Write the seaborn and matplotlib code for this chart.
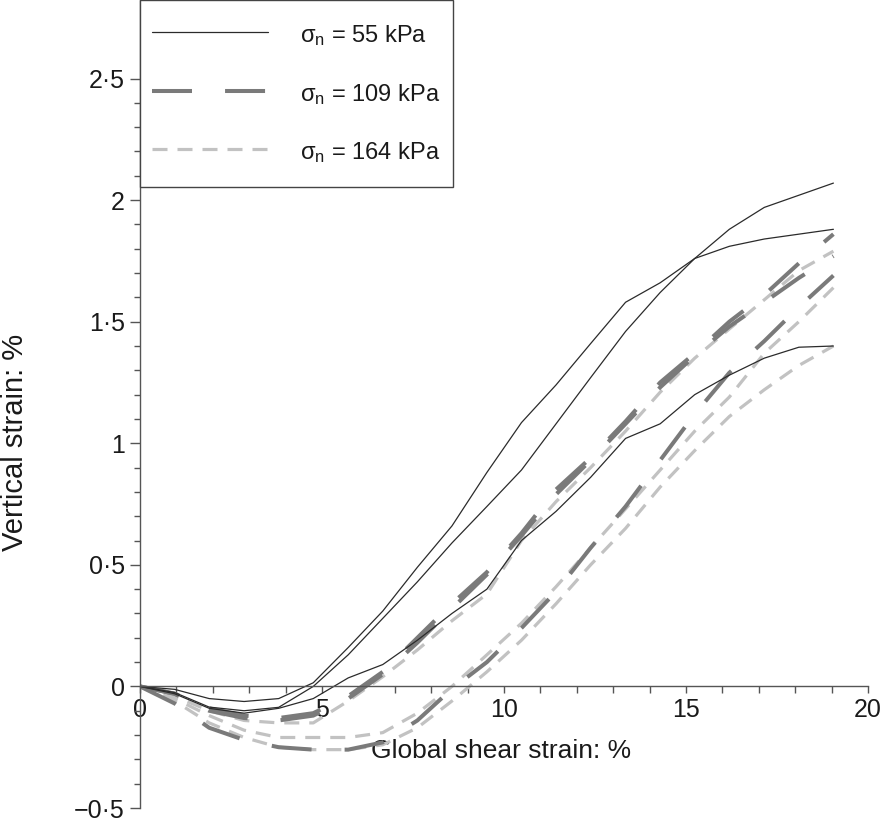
import matplotlib
matplotlib.use("Agg")
import matplotlib.pyplot as plt
import numpy as np
import pandas as pd
import seaborn as sns
from matplotlib.lines import Line2D
from matplotlib.legend_handler import HandlerLine2D
from matplotlib.ticker import FixedLocator, FixedFormatter

# Global shear strain (%) at each logged reading
shear_strain = [0.0, 0.95, 1.90, 2.86, 3.81, 4.76, 5.72, 6.67, 7.62, 8.57,
                9.53, 10.48, 11.43, 12.38, 13.34, 14.29, 15.24, 16.19, 17.15, 18.10, 19.05]

# Vertical strain (%) for three repeat tests at each normal stress
v55_a = [0, -0.012, -0.05, -0.062, -0.05, 0.015, 0.16, 0.31, 0.49, 0.66, 0.88,
         1.085, 1.24, 1.41, 1.58, 1.66, 1.76, 1.81, 1.84, 1.86, 1.88]
v55_b = [0, -0.025, -0.085, -0.10, -0.086, 0.0, 0.13, 0.28, 0.43, 0.59, 0.74,
         0.89, 1.08, 1.27, 1.46, 1.62, 1.76, 1.88, 1.97, 2.02, 2.07]
v55_c = [0, -0.03, -0.09, -0.11, -0.09, -0.05, 0.035, 0.09, 0.19, 0.30, 0.40,
         0.60, 0.72, 0.86, 1.02, 1.08, 1.20, 1.28, 1.35, 1.395, 1.40]

v109_a = [0, -0.03, -0.09, -0.12, -0.13, -0.11, -0.04, 0.06, 0.20, 0.34, 0.47,
          0.63, 0.81, 0.94, 1.09, 1.25, 1.37, 1.50, 1.61, 1.74, 1.86]
v109_b = [0, -0.03, -0.10, -0.13, -0.14, -0.12, -0.05, 0.05, 0.18, 0.32, 0.46,
          0.62, 0.79, 0.93, 1.08, 1.23, 1.36, 1.48, 1.58, 1.68, 1.77]
v109_c = [0, -0.07, -0.17, -0.22, -0.25, -0.26, -0.26, -0.23, -0.14, -0.01, 0.10,
          0.24, 0.39, 0.57, 0.74, 0.93, 1.12, 1.29, 1.42, 1.56, 1.69]

v164_a = [0, -0.04, -0.10, -0.14, -0.15, -0.15, -0.06, 0.04, 0.15, 0.27, 0.38,
          0.60, 0.76, 0.90, 1.05, 1.21, 1.35, 1.47, 1.59, 1.71, 1.79]
v164_b = [0, -0.05, -0.12, -0.18, -0.21, -0.21, -0.21, -0.19, -0.11, 0.0, 0.13,
          0.26, 0.41, 0.57, 0.73, 0.89, 1.05, 1.19, 1.37, 1.50, 1.64]
v164_c = [0, -0.06, -0.15, -0.21, -0.25, -0.26, -0.26, -0.24, -0.17, -0.06, 0.06,
          0.19, 0.34, 0.50, 0.65, 0.82, 0.97, 1.11, 1.22, 1.32, 1.40]

series_labels = ["σ$_{\\mathrm{n}}$ = 55 kPa",
                 "σ$_{\\mathrm{n}}$ = 109 kPa",
                 "σ$_{\\mathrm{n}}$ = 164 kPa"]

x_major_ticks = [0, 5, 10, 15, 20]
x_tick_labels = ["0", "5", "10", "15", "20"]
y_major_ticks = [-0.5, 0, 0.5, 1, 1.5, 2, 2.5]
y_tick_labels = ["\u22120\u00b75", "0", "0\u00b75", "1", "1\u00b75", "2", "2\u00b75"]

# Long-form table: one row per reading
tests = {
    series_labels[0]: [v55_a, v55_b, v55_c],
    series_labels[1]: [v109_a, v109_b, v109_c],
    series_labels[2]: [v164_a, v164_b, v164_c],
}
rows = []
for load, runs in tests.items():
    for k, run in enumerate(runs):
        for xv, yv in zip(shear_strain, run):
            rows.append({"load": load, "test": k, "shear": xv, "vertical": yv})
df = pd.DataFrame(rows)

sns.set_style("ticks")
plt.rcParams["font.family"] = ["Liberation Sans", "DejaVu Sans"]
plt.rcParams["mathtext.fontset"] = "custom"
plt.rcParams["mathtext.rm"] = "Liberation Sans"
plt.rcParams["mathtext.it"] = "Liberation Sans:italic"
plt.rcParams["lines.scale_dashes"] = False

styles = {
    series_labels[0]: dict(color="#2b2b2b", linewidth=0.9, linestyle="-"),
    series_labels[1]: dict(color="#7a7a7a", linewidth=2.9, linestyle=(0, (28.8, 23.8))),
    series_labels[2]: dict(color="#c2c2c2", linewidth=2.3, linestyle=(0, (10.8, 7.2))),
}


class LoweredLineHandler(HandlerLine2D):
    """Legend line sample sitting level with the label text."""

    def create_artists(self, *args, **kwargs):
        artists = super().create_artists(*args, **kwargs)
        for a in artists:
            a.set_ydata(np.asarray(a.get_ydata()) - 3.6)
        return artists


W, H = 881, 822
fig = plt.figure(figsize=(W / 100, H / 100), dpi=100)
ax = fig.add_axes([140 / W, 14 / H, 728 / W, 808 / H])

# lighter series first so the darker ones sit on top
for load in [series_labels[2], series_labels[1], series_labels[0]]:
    sub = df[df["load"] == load]
    sns.lineplot(data=sub, x="shear", y="vertical", units="test", estimator=None,
                 sort=False, legend=False, ax=ax, **styles[load])

ax.set_xlim(0, 20)
ax.set_ylim(-0.5, 2.823)

axis_col = "#555555"
for s in ["top", "right"]:
    ax.spines[s].set_visible(False)
ax.spines["bottom"].set_position(("data", 0))
for s in ["left", "bottom"]:
    ax.spines[s].set_color(axis_col)
    ax.spines[s].set_linewidth(1.0)

ax.xaxis.set_major_locator(FixedLocator(x_major_ticks))
ax.xaxis.set_major_formatter(FixedFormatter(x_tick_labels))
ax.xaxis.set_minor_locator(FixedLocator(list(range(0, 21))))
ax.yaxis.set_major_locator(FixedLocator(y_major_ticks))
ax.yaxis.set_major_formatter(FixedFormatter(y_tick_labels))
ax.yaxis.set_minor_locator(FixedLocator([round(-0.5 + 0.1 * i, 1) for i in range(31)]))

ax.tick_params(axis="x", which="both", direction="out", length=5, width=1,
               color=axis_col, labelsize=18, pad=3, labelcolor="#1a1a1a")
ax.tick_params(axis="y", which="major", direction="out", length=7, width=1,
               color=axis_col, labelsize=18, pad=4, labelcolor="#1a1a1a")
ax.tick_params(axis="y", which="minor", direction="out", length=4, width=1,
               color=axis_col)

ax.set_xlabel("Global shear strain: %", fontsize=19, color="#1a1a1a")
ax.set_ylabel("Vertical strain: %", fontsize=21, color="#1a1a1a")
ax.xaxis.set_label_coords(0.496, 0.085)
ax.yaxis.set_label_coords(-0.152, 0.452)

handles = [Line2D([], [], **styles[lab]) for lab in series_labels]
leg = ax.legend(handles, series_labels, loc="upper left", bbox_to_anchor=(0, 1),
                borderaxespad=0, fontsize=17, handlelength=4.92, handletextpad=1.36,
                handleheight=2.6, labelspacing=0.55, borderpad=0.51,
                handler_map={Line2D: LoweredLineHandler()},
                frameon=True, fancybox=False, framealpha=1, edgecolor="#444444")
leg.get_frame().set_linewidth(1.0)
for t in leg.get_texts():
    t.set_color("#1a1a1a")

fig.savefig("out.png", dpi=100, facecolor="white")
